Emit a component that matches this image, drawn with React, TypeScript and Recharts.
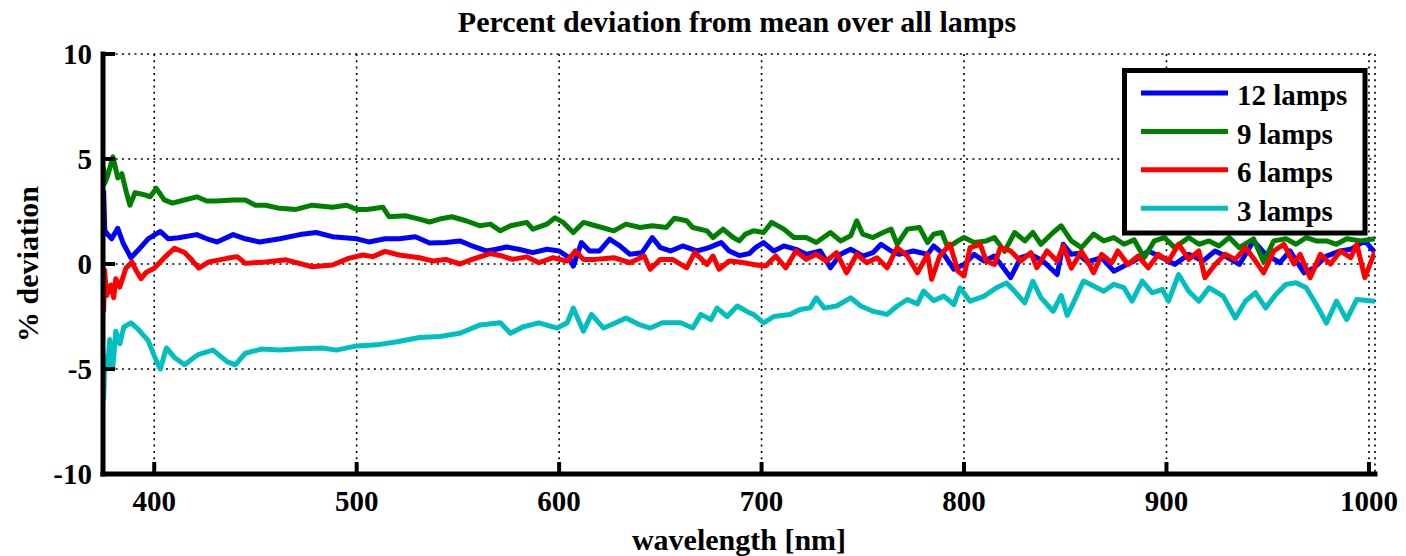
import { LineChart, Line, XAxis, YAxis, CartesianGrid } from "recharts";

// [wavelength nm, % deviation]
const lamps12: [number, number][] = [
  [375, 3.5], [375.6, 1.6], [377, 1.4], [379, 1.2], [382, 1.7], [384.6, 1.0], [388.5, 0.3], [392, 0.65], [397, 1.2], [403, 1.55],
  [407, 1.2], [412, 1.25], [421, 1.4], [426, 1.2], [431, 1.05], [439, 1.4], [445, 1.2], [452, 1.05], [462, 1.2], [472, 1.4],
  [480, 1.5], [488, 1.3], [500, 1.2], [506, 1.05], [514, 1.2], [521, 1.2], [529, 1.3], [536, 1.0], [544, 1.02], [551, 1.1],
  [557, 0.86], [564, 0.62], [569, 0.7], [574, 0.81], [580, 0.7], [587, 0.54], [594, 0.7], [600, 0.62], [605, 0.3], [607, -0.1],
  [611, 1.02], [615, 0.62], [620, 0.62], [625, 1.18], [630, 0.86], [635, 0.46], [641, 0.54], [646, 1.26], [650, 0.78], [655, 0.62],
  [661, 0.86], [668, 0.62], [674, 0.78], [680, 1.02], [684, 0.62], [689, 0.4], [694, 0.5], [697, 0.78], [701, 1.02], [706, 0.62],
  [711, 0.86], [717, 0.7], [722, 0.46], [729, 0.62], [734, -0.18], [739, 0.46], [744, 0.7], [750, 0.38], [755, 0.54], [759, 0.94],
  [764, 0.62], [768, 0.46], [775, 0.62], [782, 0.46], [785, 0.86], [790, 0.46], [795, -0.25], [800, -0.02], [805, 0.46], [810, 0.14],
  [815, 0.38], [820, -0.25], [823, -0.65], [828, 0.3], [833, 0.46], [839, 0.14], [846, -0.5], [849, 0.94], [853, 0.46], [856, 0.5],
  [861, 0.1], [868, 0.3], [874, -0.34], [879, -0.1], [884, 0.14], [891, 0.62], [898, 0.3], [904, -0.02], [911, 0.46], [918, 0.14],
  [924, 0.62], [929, 0.38], [936, -0.02], [943, 1.1], [949, 0.46], [956, 0.06], [961, 0.62], [968, -0.42], [973, -0.18], [979, 0.38],
  [986, 0.62], [991, 0.7], [998, 1.1], [1003, 0.55],
];

const lamps9: [number, number][] = [
  [375, 4.6], [375.6, 3.85], [377, 4.2], [379.6, 5.1], [382, 4.1], [384, 4.3], [386, 3.5], [388, 2.8], [390.5, 3.4], [395, 3.3],
  [398, 3.2], [401, 3.6], [405, 3.05], [409, 2.9], [413, 3.0], [421, 3.2], [426, 3.0], [431, 3.0], [439, 3.05], [445, 3.05],
  [450, 2.8], [455, 2.8], [462, 2.65], [470, 2.6], [478, 2.8], [488, 2.7], [495, 2.8], [500, 2.6], [505, 2.6], [513, 2.7],
  [516, 2.25], [524, 2.3], [531, 2.14], [536, 2.0], [541, 2.14], [547, 2.25], [554, 2.06], [561, 1.82], [566, 1.9], [571, 1.58],
  [576, 1.82], [584, 1.98], [587, 1.66], [594, 1.9], [598, 2.2], [602, 1.98], [607, 1.5], [612, 1.98], [618, 1.82], [627, 1.58],
  [633, 1.9], [640, 1.74], [646, 1.82], [653, 1.74], [657, 2.18], [663, 2.06], [666, 1.74], [673, 1.58], [676, 1.26], [681, 1.66],
  [686, 1.26], [689, 1.1], [692, 1.42], [696, 1.58], [701, 1.5], [705, 1.98], [711, 1.66], [716, 1.26], [722, 1.26], [727, 1.02],
  [734, 1.5], [739, 1.1], [744, 1.34], [747, 2.06], [750, 1.42], [755, 1.26], [760, 1.5], [764, 1.66], [767, 0.94], [772, 1.66],
  [778, 1.74], [782, 1.02], [785, 1.42], [789, 1.5], [792, 0.78], [797, 1.1], [800, 1.26], [805, 1.02], [811, 1.1], [815, 1.26],
  [820, 0.6], [825, 1.5], [830, 1.1], [834, 1.5], [838, 0.94], [844, 1.5], [848, 1.82], [853, 1.1], [858, 0.78], [864, 1.42],
  [869, 1.1], [874, 1.26], [879, 0.94], [884, 1.15], [889, 0.3], [894, 1.1], [899, 1.26], [904, 0.78], [911, 1.26], [916, 0.94],
  [921, 1.1], [926, 0.86], [931, 1.26], [936, 0.78], [943, 1.2], [948, 0.1], [953, 1.1], [959, 1.2], [964, 0.94], [969, 1.26],
  [974, 1.1], [979, 1.1], [984, 0.94], [989, 1.2], [996, 1.1], [1003, 1.2],
];

const lamps6: [number, number][] = [
  [375, -2.3], [375.5, -0.3], [376.5, -1.5], [378.6, -1.0], [380, -1.6], [381, -0.7], [383, -1.1], [386, -0.2], [389, 0.1], [391, -0.3],
  [393.5, -0.7], [396, -0.4], [400, -0.2], [405, 0.3], [410, 0.75], [415, 0.55], [418, 0.25], [422, -0.2], [427, 0.1], [436, 0.27],
  [441, 0.35], [445, 0.03], [455, 0.1], [465, 0.2], [478, -0.13], [488, -0.05], [496, 0.27], [503, 0.43], [508, 0.35], [514, 0.6],
  [521, 0.43], [531, 0.3], [538, 0.14], [544, 0.22], [551, 0.0], [557, 0.22], [566, 0.5], [572, 0.38], [577, 0.22], [584, 0.34],
  [590, 0.06], [597, 0.3], [604, 0.14], [608, 0.62], [612, 0.22], [618, 0.22], [627, 0.3], [635, 0.06], [642, 0.38], [645, -0.25],
  [650, 0.22], [656, 0.22], [663, -0.18], [667, 0.54], [673, -0.02], [676, 0.38], [679, -0.25], [684, 0.14], [689, 0.1], [696, -0.02],
  [702, -0.1], [707, 0.38], [712, -0.18], [717, 0.62], [722, 0.22], [727, 0.46], [732, 0.14], [737, 0.54], [742, -0.42], [747, 0.46],
  [752, 0.06], [757, 0.3], [762, -0.18], [767, 0.78], [772, 0.38], [777, -0.42], [782, 0.46], [784, -0.73], [788, 0.38], [793, 0.94],
  [797, -0.34], [800, -0.57], [803, 0.78], [808, 0.94], [811, 0.14], [815, -0.02], [818, 0.78], [823, 0.62], [828, 0.14], [833, 0.54],
  [836, -0.18], [841, 0.62], [846, 0.14], [849, 0.86], [853, -0.2], [858, 0.6], [861, 0.14], [864, -0.42], [868, 0.46], [873, 0.06],
  [876, 0.62], [881, -0.02], [886, 0.38], [891, -0.18], [896, 0.46], [901, 0.14], [906, 0.94], [911, 0.22], [916, 0.62], [919, -0.65],
  [924, -0.02], [929, 0.46], [934, 0.22], [939, 0.78], [944, 0.14], [948, -0.42], [953, 0.62], [958, 0.94], [963, 0.0], [966, 0.46],
  [971, -0.65], [976, 0.46], [981, 0.0], [986, 0.62], [991, 0.3], [994, 0.94], [998, -0.65], [1003, 0.6],
];

const lamps3: [number, number][] = [
  [375, -6.5], [375.6, -4.4], [377, -4.9], [378, -3.6], [379.5, -5.0], [381, -3.2], [383, -3.8], [385, -3.0], [388.5, -2.8], [392, -3.1],
  [397, -3.65], [401, -4.6], [403, -5.0], [406, -4.0], [410, -4.45], [415, -4.8], [419, -4.5], [422, -4.3], [429, -4.1], [436, -4.65],
  [440, -4.8], [445, -4.25], [453, -4.05], [462, -4.1], [470, -4.05], [483, -4.0], [490, -4.1], [500, -3.9], [510, -3.85], [520, -3.7],
  [531, -3.5], [541, -3.45], [551, -3.3], [561, -2.9], [571, -2.8], [576, -3.3], [582, -3.0], [590, -2.8], [599, -3.05], [604, -2.8],
  [607, -2.1], [612, -3.2], [616, -2.4], [622, -3.05], [628, -2.8], [633, -2.57], [640, -2.9], [645, -3.05], [651, -2.8], [660, -2.8],
  [666, -3.05], [670, -2.4], [675, -2.65], [678, -2.1], [683, -2.5], [688, -2.0], [694, -2.33], [696, -2.4], [701, -2.8], [706, -2.5],
  [714, -2.4], [719, -2.17], [724, -2.09], [727, -1.61], [731, -2.1], [737, -2.0], [744, -1.61], [749, -2.0], [755, -2.25], [762, -2.4],
  [767, -2.0], [772, -1.69], [777, -1.9], [780, -1.29], [785, -1.75], [790, -1.53], [795, -1.93], [798, -1.13], [803, -1.77], [810, -1.53],
  [816, -1.13], [821, -0.9], [825, -1.3], [830, -1.85], [834, -0.82], [838, -1.6], [844, -2.25], [848, -1.5], [851, -2.45], [854, -1.85],
  [859, -0.81], [864, -1.05], [869, -1.3], [874, -0.97], [879, -1.13], [883, -1.77], [888, -0.81], [893, -1.37], [898, -1.21], [901, -1.77],
  [906, -0.5], [911, -1.3], [916, -1.77], [921, -1.13], [928, -1.53], [934, -2.57], [939, -1.77], [944, -1.37], [949, -2.09], [954, -1.45],
  [959, -0.97], [964, -0.89], [969, -1.13], [974, -1.93], [979, -2.81], [984, -1.77], [989, -2.65], [994, -1.69], [1003, -1.77],
];

const X_TICKS = [400, 500, 600, 700, 800, 900, 1000];
const Y_TICKS = [-10, -5, 0, 5, 10];
const X_DOMAIN: [number, number] = [374.7, 1003];
const Y_DOMAIN: [number, number] = [-10, 10];

// the second pair of axes only draws the top/right box edges; it has to own a series or Recharts skips it
const SERIES = [
  { name: "12 lamps", color: "#0000ff", points: lamps12, xId: 0, yId: 0 },
  { name: "9 lamps", color: "#008000", points: lamps9, xId: "top", yId: "right" },
  { name: "6 lamps", color: "#ff0000", points: lamps6, xId: 0, yId: 0 },
  { name: "3 lamps", color: "#00bfbf", points: lamps3, xId: "top", yId: "right" },
];

const FONT = "'Liberation Serif', 'Times New Roman', serif";
const textStyle = { fontFamily: FONT, fontSize: 29, fontWeight: "bold" as const, fill: "#000" };
const axisLine = { stroke: "#000", strokeWidth: 5, strokeLinecap: "square" as const };
const TICK_LEN = 12;
const X_MARGIN = 16;
const Y_MARGIN = 11;

// MATLAB puts the tick marks inside the box, so draw them ourselves
const BottomTick = (p: any) => (
  <g>
    <line x1={p.x} x2={p.x} y1={p.y - X_MARGIN} y2={p.y - X_MARGIN - TICK_LEN} stroke="#000" strokeWidth={4} />
    <text x={p.x} y={p.y} dy="0.71em" textAnchor="middle" style={textStyle}>{p.payload.value}</text>
  </g>
);
const LeftTick = (p: any) => (
  <g>
    <line x1={p.x + Y_MARGIN} x2={p.x + Y_MARGIN + TICK_LEN} y1={p.y} y2={p.y} stroke="#000" strokeWidth={4} />
    <text x={p.x} y={p.y} dy="0.35em" textAnchor="end" style={textStyle}>{p.payload.value}</text>
  </g>
);
const TopTick = (p: any) => (
  <line x1={p.x} x2={p.x} y1={p.y} y2={p.y + TICK_LEN} stroke="#000" strokeWidth={4} />
);
const RightTick = (p: any) => (
  <line x1={p.x} x2={p.x - TICK_LEN} y1={p.y} y2={p.y} stroke="#000" strokeWidth={4} />
);

export default function App() {
  return (
    <div style={{ position: "absolute", left: 0, top: 0, width: 1406, height: 556, background: "#fff" }}>
      <LineChart width={1406} height={556} margin={{ top: 54, right: 31, bottom: 0, left: 0 }}>
        <CartesianGrid stroke="#000" strokeDasharray="2 4.3" strokeWidth={1.6} />
        {SERIES.map((s) => (
          <Line
            key={s.name}
            xAxisId={s.xId}
            yAxisId={s.yId}
            data={s.points.map(([x, y]) => ({ x, y }))}
            dataKey="y"
            name={s.name}
            type="linear"
            stroke={s.color}
            strokeWidth={5}
            strokeLinejoin="round"
            dot={false}
            isAnimationActive={false}
          />
        ))}
        <XAxis
          dataKey="x"
          type="number"
          domain={X_DOMAIN}
          allowDataOverflow
          ticks={X_TICKS}
          interval={0}
          height={82}
          tickSize={0}
          tickMargin={X_MARGIN}
          tick={<BottomTick />}
          tickLine={false}
          axisLine={axisLine}
          label={{ value: "wavelength [nm]", position: "insideBottom", offset: 6, style: { ...textStyle, fontSize: 30 } }}
        />
        <XAxis
          xAxisId="top"
          orientation="top"
          dataKey="x"
          type="number"
          domain={X_DOMAIN}
          allowDataOverflow
          ticks={X_TICKS}
          interval={0}
          height={0}
          tickSize={0}
          tickMargin={0}
          tick={<TopTick />}
          tickLine={false}
          axisLine={axisLine}
        />
        <YAxis
          type="number"
          domain={Y_DOMAIN}
          ticks={Y_TICKS}
          interval={0}
          width={103}
          tickSize={0}
          tickMargin={Y_MARGIN}
          tick={<LeftTick />}
          tickLine={false}
          axisLine={axisLine}
          label={{
            value: "% deviation",
            angle: -90,
            position: "insideLeft",
            offset: 27,
            style: { ...textStyle, fontSize: 30, textAnchor: "middle" },
          }}
        />
        <YAxis
          yAxisId="right"
          orientation="right"
          type="number"
          domain={Y_DOMAIN}
          ticks={Y_TICKS}
          interval={0}
          width={0}
          tickSize={0}
          tickMargin={0}
          tick={<RightTick />}
          tickLine={false}
          axisLine={axisLine}
        />
      </LineChart>

      {/* title + legend drawn on top, MATLAB style */}
      <svg width={1406} height={556} style={{ position: "absolute", left: 0, top: 0, pointerEvents: "none" }}>
        <text x={737} y={32} textAnchor="middle" style={{ fontFamily: FONT, fontSize: 30, fontWeight: "bold" }}>
          Percent deviation from mean over all lamps
        </text>
        <rect x={1124.5} y={70.5} width={240.5} height={162.5} fill="#fff" stroke="#000" strokeWidth={5} />
        {SERIES.map((s, i) => {
          const ly = 93 + i * 38.4;
          return (
            <g key={s.name}>
              <line x1={1141} x2={1228} y1={ly} y2={ly} stroke={s.color} strokeWidth={5} />
              <text x={1237} y={ly + 12.3} style={{ fontFamily: FONT, fontSize: 29, fontWeight: "bold" }}>
                {s.name}
              </text>
            </g>
          );
        })}
      </svg>
    </div>
  );
}
